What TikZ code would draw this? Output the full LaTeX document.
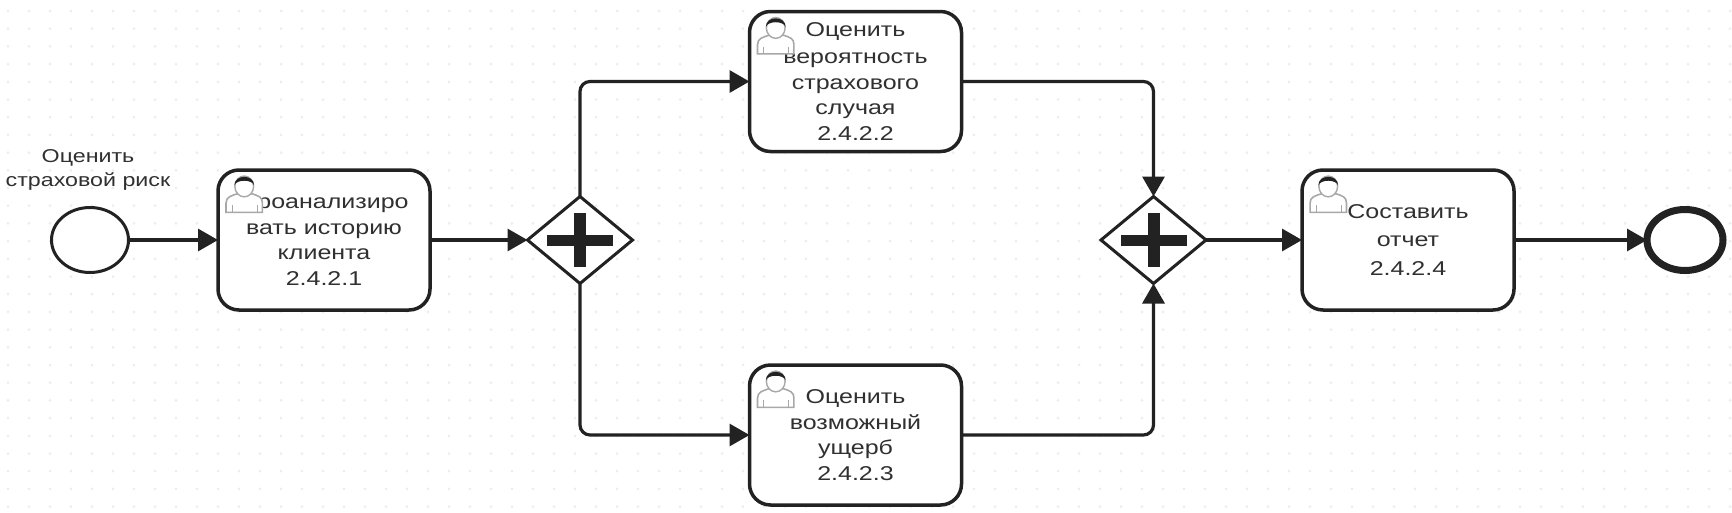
\documentclass[tikz,border=0pt]{standalone}
\usepackage{fontspec}
\setmainfont[FakeStretch=1.25]{Liberation Sans}
\usetikzlibrary{shapes.geometric,arrows.meta}
\definecolor{ink}{HTML}{222222}
\definecolor{txt}{HTML}{303030}
\definecolor{griddot}{HTML}{EDEDED}
\definecolor{icongray}{HTML}{A8A8A8}
\tikzset{
  x=1pt,y=-1pt,
  task/.style={draw=ink,fill=white,line width=3.5pt,rounded corners=21pt,minimum width=212pt,minimum height=140pt,inner sep=0pt,outer sep=0pt,align=center,text=txt,font=\fontsize{20}{25.5}\selectfont},
  gate/.style={draw=ink,fill=white,line width=3pt,diamond,minimum width=105pt,minimum height=87pt,inner sep=0pt,outer sep=0pt},
  startev/.style={draw=ink,fill=white,line width=3pt,ellipse,minimum width=77pt,minimum height=65pt,inner sep=0pt,outer sep=0pt},
  endev/.style={draw=ink,fill=white,line width=7pt,ellipse,minimum width=76pt,minimum height=61pt,inner sep=0pt,outer sep=0pt},
  flow/.style={draw=ink,line width=3.2pt,rounded corners=10pt,-{Triangle[length=20pt,width=22pt]}},
  eventlabel/.style={text=txt,align=center,inner sep=0pt,font=\fontsize{18.6}{24}\selectfont},
  usericon/.pic={
    \begin{scope}[scale=1.04]
    \draw[icongray,fill=white,line width=1.6pt] (1,36) -- (1,27) .. controls (1,21) and (6,20) .. (12,18) -- (26,18) .. controls (32,20) and (36,21) .. (36,27) -- (36,36) -- cycle;
    \draw[icongray,line width=1.2pt] (7,29) -- (7,36) (31,29) -- (31,36);
    \draw[icongray,fill=white,line width=1.4pt] (18.5,11) ellipse (9 and 10);
    \fill[ink] (9,10) .. controls (9,-1) and (28,-1) .. (28,10) .. controls (26,4) and (11,4) .. (9,10) -- cycle;
    \end{scope}
  },
  plusbar/.style={fill=ink,draw=none}
}
\begin{document}
\begin{tikzpicture}
\useasboundingbox (0,0) rectangle (1732,512);
\fill[white] (0,0) rectangle (1732,512);
\foreach \i in {0,...,82}{\foreach \j in {0,...,28}{
  \fill[griddot] ({8+21*\i},{11+17.7*\j}) circle (1.5);
}}
\node[startev] (start) at (90,240) {};
\node[eventlabel] (startlabel) at (88,170) {Оценить\\страховой риск};
\node[task] (box1) at (324,240) {Проанализиро\\вать историю\\клиента\\2.4.2.1};
\node[gate] (gw1) at (580,240) {};
\node[task] (box2) at (855.5,81.5) {\raisebox{1.5pt}{Оценить}\\вероятность\\страхового\\случая\\2.4.2.2};
\node[task] (box3) at (855.5,435) {Оценить\\возможный\\ущерб\\2.4.2.3};
\node[gate] (gw2) at (1153.5,240) {};
\node[task] (box4) at (1408,240) {Составить\\[3pt]отчет\\[3pt]2.4.2.4};
\node[endev] (finish) at (1685,240) {};
\draw[flow] (start) -- (box1);
\draw[flow] (box1) -- (gw1);
\draw[flow] (gw1.north) |- (box2.west);
\draw[flow] (gw1.south) |- (box3.west);
\draw[flow] (box2.east) -| (gw2.north);
\draw[flow] (box3.east) -| (gw2.south);
\draw[flow] (gw2) -- (box4);
\draw[flow] (box4) -- (finish);
\foreach \g in {gw1,gw2}{
  \fill[plusbar] ([shift={(-33,-5.5)}]\g.center) rectangle ([shift={(33,5.5)}]\g.center);
  \fill[plusbar] ([shift={(-6,-27)}]\g.center) rectangle ([shift={(6,27)}]\g.center);
}
\foreach \b in {box1,box2,box3,box4}{
  \pic at ([shift={(7,5)}]\b.north west) {usericon};
}
\end{tikzpicture}
\end{document}
